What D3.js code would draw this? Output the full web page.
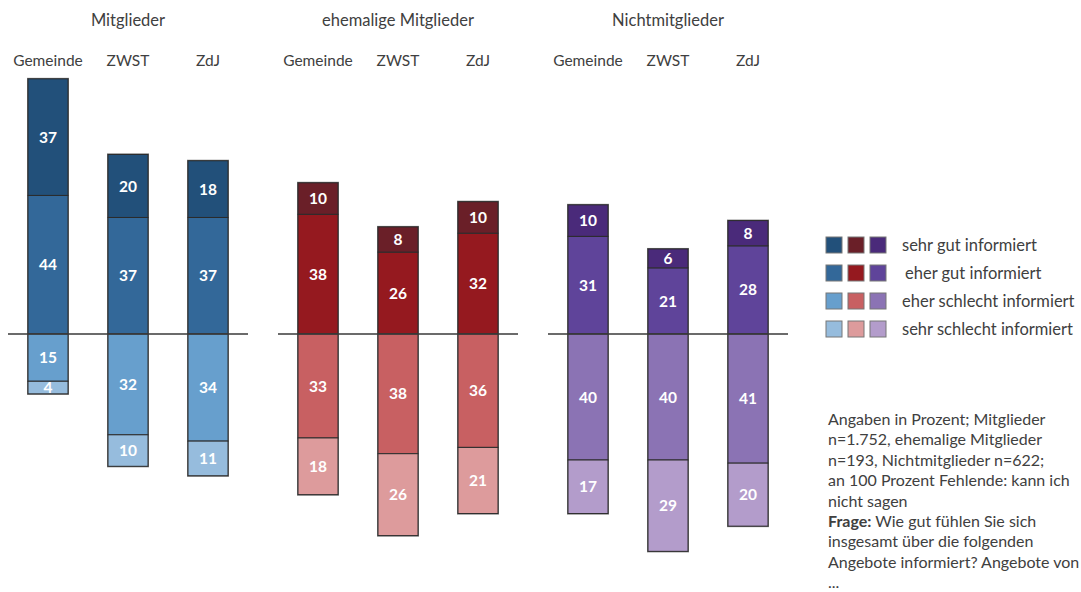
<!DOCTYPE html>
<html>
<head>
<meta charset="utf-8">
<script src="https://cdn.jsdelivr.net/npm/d3@7"></script>
<style>
  html, body { margin: 0; padding: 0; background: #fff; }
  svg { display: block; font-family: Lato, "Open Sans", sans-serif; }
</style>
</head>
<body>
<svg id="chart" width="1081" height="592"></svg>
<script>
// ---- data ----
const groups = ["Mitglieder", "ehemalige Mitglieder", "Nichtmitglieder"];
const categories = ["Gemeinde", "ZWST", "ZdJ"];
const levels = ["sehr gut informiert", "eher gut informiert", "eher schlecht informiert", "sehr schlecht informiert"];

const sehrGut      = [[37, 20, 18], [10, 8, 10], [10, 6, 8]];
const eherGut      = [[44, 37, 37], [38, 26, 32], [31, 21, 28]];
const eherSchlecht = [[15, 32, 34], [33, 38, 36], [40, 40, 41]];
const sehrSchlecht = [[4, 10, 11], [18, 26, 21], [17, 29, 20]];

const palette = [
  ["#22507a", "#336899", "#679fcd", "#96bcdd"],
  ["#6a1f28", "#95191f", "#c86062", "#dd9b9c"],
  ["#4a2a7a", "#5f449a", "#8b73b4", "#b39ccb"]
];

const noteLines = [
  {t: "Angaben in Prozent; Mitglieder"},
  {t: "n=1.752, ehemalige Mitglieder"},
  {t: "n=193, Nichtmitglieder n=622;"},
  {t: "an 100 Prozent Fehlende: kann ich"},
  {t: "nicht sagen"},
  {b: "Frage:", t: " Wie gut fühlen Sie sich"},
  {t: "insgesamt über die folgenden"},
  {t: "Angebote informiert? Angebote von"},
  {t: "..."}
];

// ---- scales ----
const svg = d3.select("#chart");
const unit = 3.15, base = 334;
const y = d3.scaleLinear().domain([-80, 90]).range([base + 80 * unit, base - 90 * unit]);
const x0 = d3.scaleBand().domain(groups).range([8, 818]);
const x1 = d3.scaleBand().domain(categories).range([0, 240]).paddingInner(0.5).paddingOuter(0.25);

const textCol = "#404040";

groups.forEach((g, gi) => {
  const gx = x0(g);
  const G = svg.append("g").attr("transform", `translate(${gx},0)`);

  // group title
  G.append("text").attr("x", 120).attr("y", 26).attr("text-anchor", "middle")
    .attr("font-size", 16.5).attr("fill", textCol).text(g);

  // category labels
  categories.forEach(c => {
    G.append("text").attr("x", x1(c) + x1.bandwidth() / 2).attr("y", 66)
      .attr("text-anchor", "middle").attr("font-size", 15.5).attr("fill", textCol).text(c);
  });

  categories.forEach((c, ci) => {
    const segs = [];
    const eg = eherGut[gi][ci], sg = sehrGut[gi][ci];
    const es = eherSchlecht[gi][ci], ss = sehrSchlecht[gi][ci];
    segs.push({v: eg, y0: 0, y1: eg, li: 1});
    segs.push({v: sg, y0: eg, y1: eg + sg, li: 0});
    segs.push({v: es, y0: -es, y1: 0, li: 2});
    segs.push({v: ss, y0: -es - ss, y1: -es, li: 3});

    const bx = x1(c), bw = x1.bandwidth();
    const top = eg + sg, bot = -es - ss;
    G.append("rect").attr("x", bx).attr("y", y(top)).attr("width", bw)
      .attr("height", y(bot) - y(top)).attr("fill", "none")
      .attr("stroke", "#777").attr("stroke-width", 2);

    segs.forEach(s => {
      G.append("rect").attr("x", bx).attr("y", y(s.y1)).attr("width", bw)
        .attr("height", y(s.y0) - y(s.y1)).attr("fill", palette[gi][s.li])
        .attr("stroke", "#2b2b2b").attr("stroke-width", 1);
      G.append("text").attr("x", bx + bw / 2).attr("y", (y(s.y0) + y(s.y1)) / 2)
        .attr("dy", "0.36em").attr("text-anchor", "middle").attr("font-size", 15.5)
        .attr("font-weight", "bold").attr("fill", "#fff").text(s.v);
    });
  });

  // baseline
  G.append("line").attr("x1", 0).attr("x2", 240).attr("y1", y(0)).attr("y2", y(0))
    .attr("stroke", "#3a3a3a").attr("stroke-width", 1.5);
});

// ---- legend ----
const leg = svg.append("g");
levels.forEach((l, li) => {
  const cy = 245 + li * 28;
  [0, 1, 2].forEach(gi => {
    leg.append("rect").attr("x", 826 + gi * 22).attr("y", cy - 8).attr("width", 16).attr("height", 16)
      .attr("fill", palette[gi][li]).attr("stroke", "#777").attr("stroke-width", 1);
  });
  leg.append("text").attr("x", li === 1 ? 905 : 902).attr("y", cy).attr("dy", "0.35em")
    .attr("font-size", 16.5).attr("fill", textCol).text(l);
});

// ---- notes ----
const notes = svg.append("g");
noteLines.forEach((n, i) => {
  const t = notes.append("text").attr("x", 828).attr("y", 425 + i * 20.4)
    .attr("font-size", 16).attr("fill", textCol);
  if (n.b) t.append("tspan").attr("font-weight", "bold").text(n.b);
  t.append("tspan").text(n.t);
});
</script>
</body>
</html>
